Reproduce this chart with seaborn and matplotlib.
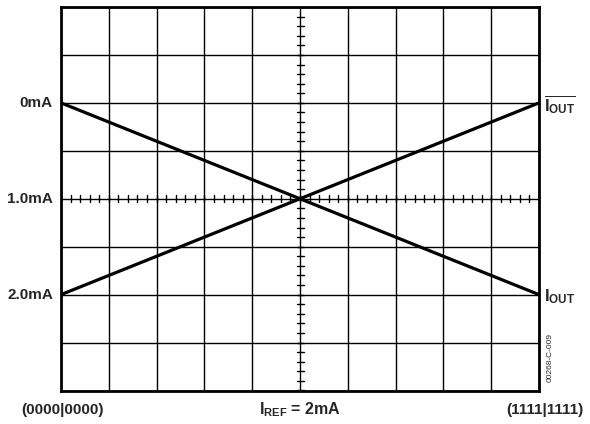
import numpy as np
import pandas as pd
import matplotlib
matplotlib.use('Agg')
import matplotlib.pyplot as plt
import seaborn as sns

# ================================
# 데이터
# ================================
codes = [0, 255]                 # 디지털 입력 코드 (0000|0000 ~ 1111|1111)
iout = [0.0, 2.0]                # I_OUT (mA)
iout_bar = [2.0, 0.0]            # I_OUT 반전 (mA)
y_labels = ['0mA', '1.0mA', '2.0mA']
y_label_vals = [0.0, 1.0, 2.0]
n_xdiv, n_ydiv = 10, 8
y_top, y_bottom = -1.0, 3.0

df = pd.DataFrame({
    'code': codes * 2,
    'current': iout + iout_bar,
    'series': ['IOUT'] * 2 + ['IOUTB'] * 2,
})

# ================================
# 스타일
# ================================
sns.set_style('white')
plt.rcParams['font.family'] = ['Liberation Sans', 'DejaVu Sans']
plt.rcParams['mathtext.fontset'] = 'custom'
plt.rcParams['mathtext.rm'] = 'Liberation Sans:bold'
plt.rcParams['mathtext.bf'] = 'Liberation Sans:bold'
plt.rcParams['mathtext.it'] = 'Liberation Sans:bold'

fig = plt.figure(figsize=(5.9, 4.24), dpi=100)
ax = fig.add_axes([61 / 590, 1 - 390.5 / 424, 478 / 590, 383.5 / 424])

sns.lineplot(data=df, x='code', y='current', units='series', estimator=None,
             color='black', linewidth=2.3, legend=False, ax=ax)

ax.set_xlim(codes[0], codes[-1])
ax.set_ylim(y_bottom, y_top)
ax.set_xlabel('')
ax.set_ylabel('')

# 격자
xdiv = np.linspace(codes[0], codes[-1], n_xdiv + 1)
ydiv = np.linspace(y_top, y_bottom, n_ydiv + 1)
ax.set_xticks(xdiv)
ax.set_yticks(ydiv)
ax.grid(True, color='black', linewidth=1.0)
ax.tick_params(length=0, labelbottom=False, labelleft=False)
for s in ax.spines.values():
    s.set_linewidth(2.0)
    s.set_color('black')

# 중앙 눈금 (1/5 분할)
xc = (codes[0] + codes[-1]) / 2
yc = (y_top + y_bottom) / 2
dx = (codes[-1] - codes[0]) / n_xdiv / 5
dy = (y_bottom - y_top) / n_ydiv / 5
tx = (codes[-1] - codes[0]) / 478 * 3.5
ty = (y_bottom - y_top) / 383.5 * 3.5
for xv in np.arange(codes[0], codes[-1] + 1e-9, dx):
    ax.plot([xv, xv], [yc - ty, yc + ty], color='black', lw=1.0)
for yv in np.arange(y_top, y_bottom + 1e-9, dy):
    ax.plot([xc - tx, xc + tx], [yv, yv], color='black', lw=1.0)

# 라벨
for lab, v in zip(y_labels, y_label_vals):
    ax.annotate(lab, xy=(0, v), xycoords=('axes fraction', 'data'),
                xytext=(-8, 0), textcoords='offset pixels',
                ha='right', va='center', fontsize=11, fontweight='bold')

ax.annotate(r'$\overline{\mathrm{I_{OUT}}}$', xy=(1, iout_bar[-1]),
            xycoords=('axes fraction', 'data'), xytext=(5, -2),
            textcoords='offset pixels', ha='left', va='center', fontsize=12)
ax.annotate(r'$\mathrm{I_{OUT}}$', xy=(1, iout[-1]),
            xycoords=('axes fraction', 'data'), xytext=(5, -2),
            textcoords='offset pixels', ha='left', va='center', fontsize=12)

fig.text(63 / 590, 1 - 410 / 424, '(0000|0000)', ha='center', va='center',
         fontsize=11, fontweight='bold')
fig.text(545 / 590, 1 - 410 / 424, '(1111|1111)', ha='center', va='center',
         fontsize=11, fontweight='bold')
fig.text(300 / 590, 1 - 410 / 424, r'$\mathrm{I_{REF}}$ = 2mA', ha='center',
         va='center', fontsize=11.5, fontweight='bold')
fig.text(550 / 590, 1 - 358 / 424, '00268-C-009', rotation=90, ha='center',
         va='center', fontsize=6)

plt.savefig('out.png', dpi=100)
